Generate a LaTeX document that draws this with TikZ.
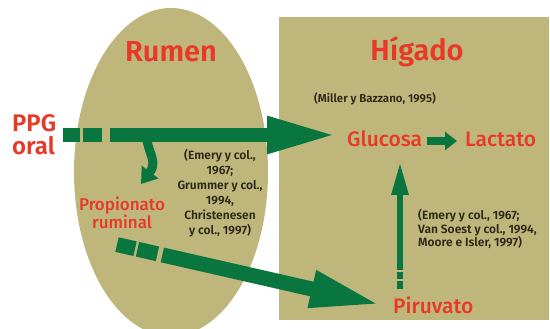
\documentclass[tikz,border=0pt]{standalone}
\usepackage{fontspec}
\setmainfont{Fira Sans}[BoldFont={Fira Sans SemiBold}]
\newfontfamily\medfont{Fira Sans Medium}
\usetikzlibrary{arrows.meta}
\definecolor{tan}{RGB}{191,182,124}
\definecolor{dgreen}{RGB}{8,118,62}
\definecolor{lred}{RGB}{232,56,40}
\definecolor{ink}{RGB}{45,40,22}
\tikzset{
  organ/.style={fill=tan, draw=none},
  title/.style={text=lred, font=\bfseries\fontsize{29}{30}\selectfont, inner sep=0pt, anchor=base},
  metab/.style={text=lred, font=\medfont\fontsize{21}{22}\selectfont, inner sep=0pt, anchor=base west},
  cite/.style={text=ink, font=\bfseries\fontsize{12}{15}\selectfont, inner sep=0pt},
  flow/.style={draw=dgreen, line cap=butt},
}
\begin{document}
\begin{tikzpicture}[x=1pt,y=-1pt]
\useasboundingbox (0,0) rectangle (550,329);
\fill[white] (0,0) rectangle (550,329);
\begin{scope}
\clip (0,0) rectangle (550,329);
\fill[organ] (171,172) ellipse [x radius=97, y radius=164];
\end{scope}
\fill[organ] (279,17) rectangle (549,320);

\node[title] (rumen) at (171,62) {Rumen};
\node[title] (higado) at (417,61) {Hígado};

\node[text=lred, font=\bfseries\fontsize{24}{23}\selectfont, inner sep=0pt, align=left, anchor=west] (ppg) at (12,135) {PPG\\oral};

\node[cite, font=\bfseries\fontsize{11.5}{13}\selectfont, anchor=base west] (miller) at (314,103) {(Miller y Bazzano, 1995)};
\node[metab] (glucosa) at (347,147) {Glucosa};
\node[metab] (lactato) at (465,147) {Lactato};
\node[metab] (piruvato) at (393,313) {Piruvato};
\node[text=lred, font=\medfont\fontsize{17}{18}\selectfont, inner sep=0pt, align=center] (prop) at (122,213) {Propionato\\ruminal};

\node[cite, align=center] (cite1) at (220,193) {(Emery y col.,\\1967;\\Grummer y col.,\\1994,\\Christenesen\\y col., 1997)};
\node[cite, font=\bfseries\fontsize{12}{13.5}\selectfont, align=left, anchor=west] (cite2) at (418,229) {(Emery y col., 1967;\\Van Soest y col., 1994,\\Moore e Isler, 1997)};

% connector end points
\coordinate (ppgS) at (63,135);
\coordinate (gluW) at (337,135);
\coordinate (propS) at (117,244.6);
\coordinate (piruW) at (382,305);
\coordinate (piruN) at (400,289);
\coordinate (gluS) at (400,162);
\coordinate (gluE) at (427,141);
\coordinate (lacW) at (457,141);
\coordinate (branchS) at (147,141);
\coordinate (branchE) at (141,184);

\draw[flow, line width=14pt, dash pattern=on 17pt off 3pt on 19pt off 8pt on 600pt off 0pt,
  -{Triangle[length=70pt,width=34pt]}] (ppgS) -- (gluW);
\draw[flow, line width=15pt, dash pattern=on 18.5pt off 2.5pt on 20.5pt off 5pt on 600pt off 0pt,
  -{Triangle[length=72pt,width=34pt]}] (propS) -- (piruW);
\draw[flow, line width=6pt, dash pattern=on 8pt off 2pt on 7pt off 2pt on 600pt off 0pt,
  -{Triangle[length=33pt,width=16pt]}] (piruN) -- (gluS);
\draw[flow, line width=8pt, -{Triangle[length=12pt,width=18pt]}] (gluE) -- (lacW);
\draw[flow, line width=9pt, -{Triangle[length=15pt,width=20pt]}]
  (branchS) .. controls (150,155) and (157,163) .. (branchE);
\end{tikzpicture}
\end{document}
